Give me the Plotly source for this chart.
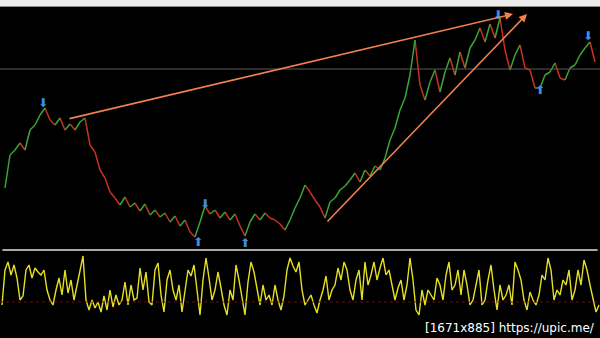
import plotly.graph_objects as go

# ---- data ----
price_step = 5
price = [62, 95, 100, 107, 100, 120, 125, 135, 142, 130,
         125, 132, 120, 126, 120, 128, 132, 105, 98, 80,
         72, 58, 52, 45, 53, 43, 47, 39, 46, 35,
         40, 33, 37, 28, 34, 24, 30, 18, 13, 28,
         44, 36, 40, 32, 38, 30, 36, 24, 14, 28,
         36, 30, 37, 32, 30, 26, 20, 30, 42, 52,
         65, 58, 50, 43, 32, 48, 52, 60, 64, 70,
         77, 68, 80, 74, 84, 80, 92, 110, 122, 140,
         152, 175, 210, 165, 150, 168, 180, 158, 178, 192,
         175, 198, 182, 202, 210, 222, 208, 226, 212, 232,
         200, 180, 195, 205, 182, 180, 162, 162, 175, 178,
         187, 172, 170, 182, 185, 195, 202, 208, 188]
bars = list(range(5, 5 + price_step * len(price), price_step))

osc = [17, 52, 60, 47, 57, 44, 22, 26, 52, 57,
       44, 54, 50, 47, 52, 32, 22, 17, 32, 44,
       27, 52, 29, 42, 22, 37, 52, 66, 22, 12,
       22, 14, 20, 10, 26, 12, 32, 15, 27, 17,
       22, 40, 17, 37, 22, 24, 54, 32, 50, 20,
       17, 52, 59, 27, 10, 42, 52, 32, 22, 37,
       10, 32, 52, 46, 57, 32, 7, 42, 64, 44,
       22, 32, 50, 34, 17, 7, 32, 22, 57, 42,
       24, 7, 40, 60, 50, 32, 17, 37, 22, 27,
       17, 37, 22, 12, 26, 52, 64, 56, 50, 60,
       32, 17, 22, 27, 17, 9, 22, 32, 46, 22,
       32, 37, 54, 42, 60, 52, 32, 22, 42, 52,
       22, 60, 37, 47, 60, 42, 54, 64, 47, 52,
       37, 22, 34, 42, 22, 37, 64, 42, 12, 7,
       32, 17, 32, 27, 22, 44, 37, 22, 47, 60,
       32, 37, 52, 27, 52, 37, 17, 22, 37, 52,
       17, 22, 42, 57, 32, 12, 37, 22, 27, 37,
       17, 60, 52, 42, 22, 12, 30, 22, 17, 27,
       47, 42, 64, 52, 22, 32, 27, 42, 37, 52,
       22, 32, 52, 37, 62, 52, 37, 22, 10, 17]
osc_bars = list(range(2, 2 + 3 * len(osc), 3))
osc_level = 20

tops_x = [43, 205, 498, 588]
tops_y = [146, 45, 234, 213]
bottoms_x = [198, 245, 540]
bottoms_y = [7, 6, 159]

trend_lines = [((68, 131), (513, 236)), ((326, 27), (527, 236))]
h_level = 181

# ---- build ----
up_x, up_y, dn_x, dn_y = [], [], [], []
for i in range(1, len(price)):
    if price[i] >= price[i - 1]:
        up_x += [bars[i - 1], bars[i], None]
        up_y += [price[i - 1], price[i], None]
    else:
        dn_x += [bars[i - 1], bars[i], None]
        dn_y += [price[i - 1], price[i], None]

fig = go.Figure()
fig.add_trace(go.Scatter(x=dn_x, y=dn_y, mode="lines", line=dict(color="#c8321e", width=1.5),
                         xaxis="x", yaxis="y", hoverinfo="skip"))
fig.add_trace(go.Scatter(x=up_x, y=up_y, mode="lines", line=dict(color="#3aa634", width=1.5),
                         xaxis="x", yaxis="y", hoverinfo="skip"))
fig.add_trace(go.Scatter(x=tops_x, y=tops_y, mode="text", text=["⬇"] * len(tops_x),
                         textfont=dict(family="DejaVu Sans", size=12, color="#3d8fe6"),
                         xaxis="x", yaxis="y", cliponaxis=False))
fig.add_trace(go.Scatter(x=bottoms_x, y=bottoms_y, mode="text", text=["⬆"] * len(bottoms_x),
                         textfont=dict(family="DejaVu Sans", size=12, color="#3d8fe6"),
                         xaxis="x", yaxis="y", cliponaxis=False))
fig.add_trace(go.Scatter(x=osc_bars, y=osc, mode="lines", line=dict(color="#e6e024", width=1.4),
                         xaxis="x2", yaxis="y2", hoverinfo="skip"))

for (x0, y0), (x1, y1) in trend_lines:
    fig.add_annotation(x=x1, y=y1, ax=x0, ay=y0, xref="x", yref="y", axref="x", ayref="y",
                       showarrow=True, arrowhead=2, arrowsize=1, arrowwidth=1.6,
                       arrowcolor="#f08050", text="")

shapes = [
    dict(type="line", xref="paper", x0=0, x1=1, yref="y", y0=h_level, y1=h_level,
         line=dict(color="#5a5a5a", width=1)),
    dict(type="rect", xref="paper", x0=0, x1=1, yref="paper", y0=1 - 6 / 338, y1=1,
         fillcolor="#ececec", line=dict(width=0)),
    dict(type="line", xref="paper", x0=0, x1=1, yref="paper", y0=1 - 6.5 / 338, y1=1 - 6.5 / 338,
         line=dict(color="#8a8a8a", width=1)),
    dict(type="line", xref="paper", x0=0.004, x1=0.996, yref="paper", y0=1 - 250 / 338, y1=1 - 250 / 338,
         line=dict(color="#a8a8a8", width=2)),
    dict(type="line", xref="paper", x0=0, x1=1, yref="y2", y0=osc_level, y1=osc_level,
         line=dict(color="#5a1212", width=1, dash="dot")),
]

fig.add_annotation(x=597, y=1 - 328 / 338, xref="x", yref="paper", text="[1671x885] https://upic.me/",
                   showarrow=False, xanchor="right", yanchor="middle",
                   font=dict(family="DejaVu Sans", size=12, color="#ffffff"))

fig.update_layout(
    width=600, height=338, margin=dict(l=0, r=0, t=0, b=0),
    paper_bgcolor="#000000", plot_bgcolor="#000000", showlegend=False,
    shapes=shapes,
    xaxis=dict(range=[0, 600], visible=False, domain=[0, 1]),
    xaxis2=dict(range=[0, 600], visible=False, domain=[0, 1], anchor="y2", matches="x"),
    yaxis=dict(range=[2, 242], visible=False, domain=[1 - 248 / 338, 1 - 8 / 338]),
    yaxis2=dict(range=[0, 70], visible=False, domain=[1 - 322 / 338, 1 - 252 / 338], anchor="x2"),
)

fig.write_html("out.html")
